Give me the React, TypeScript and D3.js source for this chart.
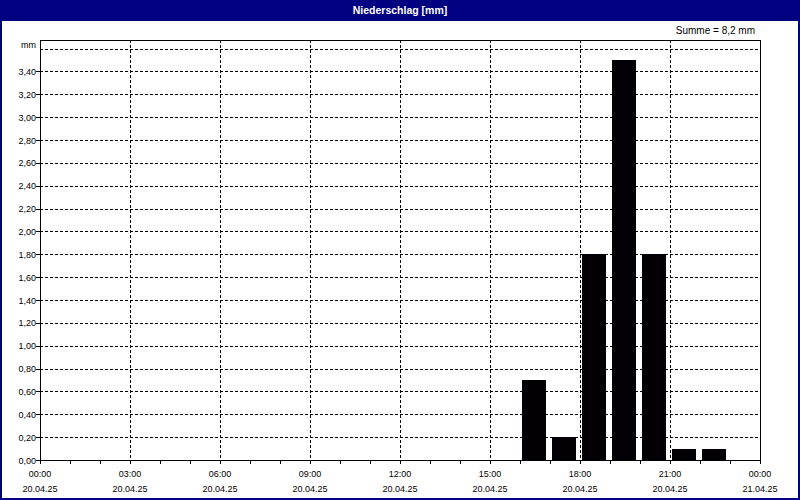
import React from "react";
import * as d3 from "d3";

const title = "Niederschlag [mm]";
const sumLabel = "Summe = 8,2 mm";
const unitLabel = "mm";
// bar start hour (on 20.04.25) and precipitation in mm
const barHours = [16, 17, 18, 19, 20, 21, 22];
const barValues = [0.7, 0.2, 1.8, 3.5, 1.8, 0.1, 0.1];
const yTickValues = [0, 0.2, 0.4, 0.6, 0.8, 1.0, 1.2, 1.4, 1.6, 1.8, 2.0, 2.2, 2.4, 2.6, 2.8, 3.0, 3.2, 3.4];
const yGridValues = [0.2, 0.4, 0.6, 0.8, 1.0, 1.2, 1.4, 1.6, 1.8, 2.0, 2.2, 2.4, 2.6, 2.8, 3.0, 3.2, 3.4, 3.6];
const xMajorHours = [0, 3, 6, 9, 12, 15, 18, 21, 24];
const xTimeLabels = ["00:00", "03:00", "06:00", "09:00", "12:00", "15:00", "18:00", "21:00", "00:00"];
const xDateLabels = ["20.04.25", "20.04.25", "20.04.25", "20.04.25", "20.04.25", "20.04.25", "20.04.25", "20.04.25", "21.04.25"];
const yMax = 3.675;

const W = 800;
const H = 500;
const m = { left: 40, right: 760, top: 40, bottom: 460 };
const NAVY = "#000080";
const FONT = "'Liberation Sans', Arial, sans-serif";

export default function App() {
  const x = d3.scaleLinear().domain([0, 24]).range([m.left, m.right]);
  const y = d3.scaleLinear().domain([0, yMax]).range([m.bottom, m.top]);
  const minorHours = d3.range(0, 25);
  const fmt = (v: number) => v.toFixed(2).replace(".", ",");

  return (
    <svg
      width={W}
      height={H}
      style={{ position: "absolute", left: 0, top: 0, background: "#fff" }}
    >
      <rect x={0} y={0} width={W} height={H} fill="#fff" />
      {/* title bar */}
      <rect x={0} y={0} width={W} height={21} fill={NAVY} />
      <text
        x={W / 2}
        y={14}
        textAnchor="middle"
        fill="#fff"
        fontFamily={FONT}
        fontWeight="bold"
        fontSize={10.5}
      >
        {title}
      </text>
      {/* outer frame */}
      <rect x={1} y={1} width={W - 2} height={H - 2} fill="none" stroke={NAVY} strokeWidth={2} />

      <text x={755} y={34} textAnchor="end" fontFamily={FONT} fontSize={10} fill="#000">
        {sumLabel}
      </text>
      <text x={36} y={48} textAnchor="end" fontFamily={FONT} fontSize={9} fill="#000">
        {unitLabel}
      </text>

      <g shapeRendering="crispEdges">
        {/* horizontal grid */}
        {yGridValues.map((v) => (
          <line
            key={"hg" + v}
            x1={m.left}
            x2={m.right}
            y1={Math.round(y(v)) + 0.5}
            y2={Math.round(y(v)) + 0.5}
            stroke="#000"
            strokeDasharray="3,2"
          />
        ))}
        {/* vertical grid */}
        {xMajorHours.slice(1, -1).map((h) => (
          <line
            key={"vg" + h}
            x1={Math.round(x(h)) + 0.5}
            x2={Math.round(x(h)) + 0.5}
            y1={m.top}
            y2={m.bottom}
            stroke="#000"
            strokeDasharray="3,2"
          />
        ))}
        {/* bars */}
        {barHours.map((h, i) => (
          <rect
            key={"b" + h}
            x={x(h) + 2}
            y={y(barValues[i])}
            width={x(h + 0.8) - x(h)}
            height={y(0) - y(barValues[i])}
            fill="#020004"
          />
        ))}
        {/* plot frame */}
        <rect
          x={m.left + 0.5}
          y={m.top + 0.5}
          width={m.right - m.left}
          height={m.bottom - m.top}
          fill="none"
          stroke="#000"
        />
        {/* x minor ticks */}
        {minorHours.map((h) => (
          <line
            key={"xt" + h}
            x1={Math.round(x(h)) + 0.5}
            x2={Math.round(x(h)) + 0.5}
            y1={m.bottom}
            y2={m.bottom + 4}
            stroke="#000"
          />
        ))}
        {/* y ticks */}
        {yTickValues.map((v) => (
          <line
            key={"yt" + v}
            x1={m.left - 4}
            x2={m.left}
            y1={Math.round(y(v)) + 0.5}
            y2={Math.round(y(v)) + 0.5}
            stroke="#000"
          />
        ))}
      </g>

      {yTickValues.map((v) => (
        <text
          key={"yl" + v}
          x={36}
          y={y(v) + 3.5}
          textAnchor="end"
          fontFamily={FONT}
          fontSize={9}
          fill="#000"
        >
          {fmt(v)}
        </text>
      ))}
      {xMajorHours.map((h, i) => (
        <g key={"xl" + i}>
          <text x={x(h)} y={477} textAnchor="middle" fontFamily={FONT} fontSize={9} fill="#000">
            {xTimeLabels[i]}
          </text>
          <text x={x(h)} y={492} textAnchor="middle" fontFamily={FONT} fontSize={9} fill="#000">
            {xDateLabels[i]}
          </text>
        </g>
      ))}
    </svg>
  );
}
